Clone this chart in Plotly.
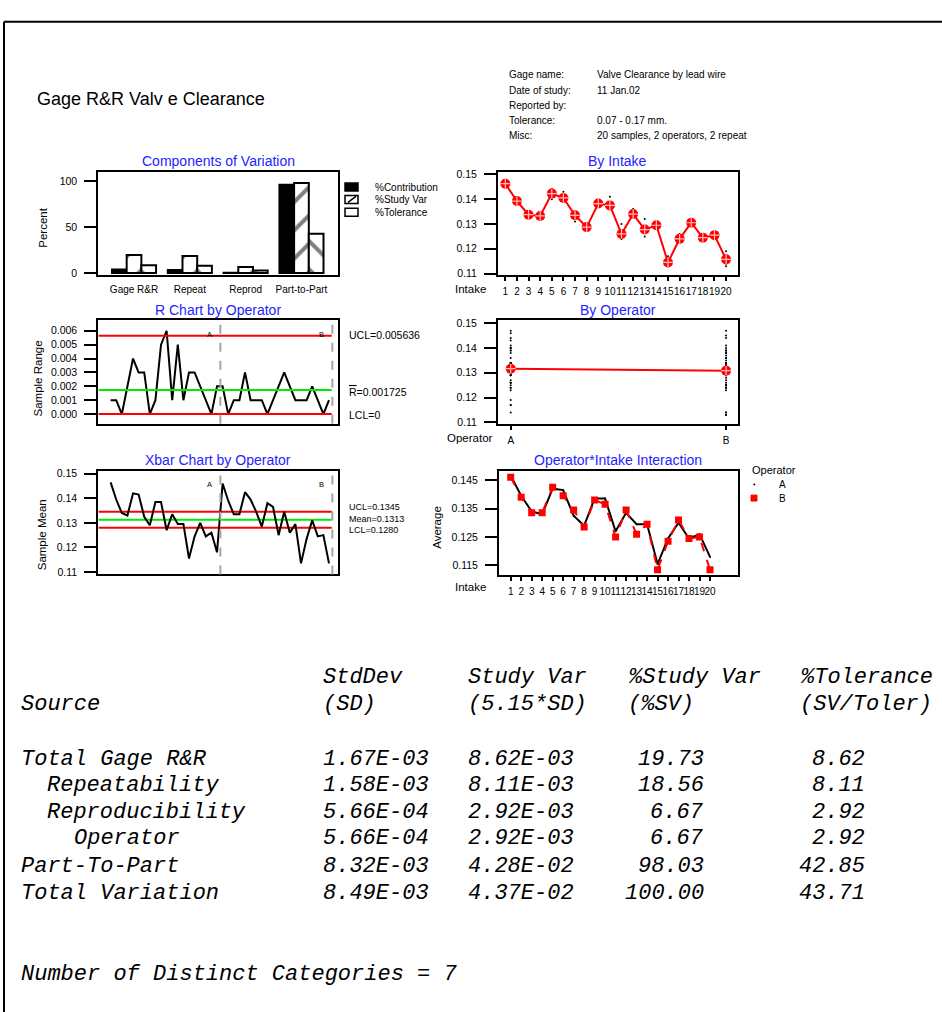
import plotly.graph_objects as go

W, H = 942, 1012


def px(x):
    return x / W


def py(y):
    return 1 - y / H


# ---------------- data ----------------
components = ["Gage R&R", "Repeat", "Reprod", "Part-to-Part"]
pct_contribution = [3.89, 3.44, 0.44, 96.11]
pct_study_var = [19.73, 18.56, 6.67, 98.03]
pct_tolerance = [8.62, 8.11, 2.92, 42.85]

intakes = list(range(1, 21))
operators = ["A", "B"]

# two repeat readings (mm) per intake for each operator
op_a_trial1 = [0.147, 0.140, 0.134, 0.134, 0.144, 0.143, 0.134, 0.129, 0.139, 0.141,
               0.130, 0.134, 0.132, 0.130, 0.117, 0.126, 0.131, 0.125, 0.126, 0.119]
op_a_trial2 = [0.146, 0.139, 0.134, 0.132, 0.140, 0.140, 0.131, 0.129, 0.138, 0.136,
               0.124, 0.133, 0.127, 0.129, 0.114, 0.123, 0.129, 0.124, 0.126, 0.117]
op_b_trial1 = [0.147, 0.139, 0.134, 0.134, 0.144, 0.140, 0.135, 0.129, 0.138, 0.137,
               0.126, 0.136, 0.127, 0.130, 0.114, 0.124, 0.132, 0.125, 0.125, 0.114]
op_b_trial2 = [0.145, 0.139, 0.133, 0.133, 0.141, 0.139, 0.134, 0.128, 0.138, 0.136,
               0.124, 0.133, 0.125, 0.129, 0.113, 0.123, 0.130, 0.124, 0.125, 0.113]

# control limits
r_ucl, r_bar, r_lcl = 0.005636, 0.001725, 0.0
x_ucl, x_mean, x_lcl = 0.1345, 0.1313, 0.1280

# study summary table
table_sources = ["Total Gage R&R", "Repeatability", "Reproducibility", "Operator",
                 "Part-To-Part", "Total Variation"]
table_indent = [0, 2, 2, 4, 0, 0]
table_stddev = ["1.67E-03", "1.58E-03", "5.66E-04", "5.66E-04", "8.32E-03", "8.49E-03"]
table_studyvar = ["8.62E-03", "8.11E-03", "2.92E-03", "2.92E-03", "4.28E-02", "4.37E-02"]
table_pct_sv = ["19.73", "18.56", "6.67", "6.67", "98.03", "100.00"]
table_pct_tol = ["8.62", "8.11", "2.92", "2.92", "42.85", "43.71"]
distinct_categories = 7

info_labels = ["Gage name:", "Date of study:", "Reported by:", "Tolerance:", "Misc:"]
info_values = ["Valve Clearance by lead wire", "11 Jan.02", "",
               "0.07 - 0.17 mm.", "20 samples, 2 operators, 2 repeat"]

# ---------------- derived statistics ----------------
a_means = [(p + q) / 2 for p, q in zip(op_a_trial1, op_a_trial2)]
b_means = [(p + q) / 2 for p, q in zip(op_b_trial1, op_b_trial2)]
a_ranges = [abs(p - q) for p, q in zip(op_a_trial1, op_a_trial2)]
b_ranges = [abs(p - q) for p, q in zip(op_b_trial1, op_b_trial2)]
intake_means = [(a + b) / 2 for a, b in zip(a_means, b_means)]
a_all = op_a_trial1 + op_a_trial2
b_all = op_b_trial1 + op_b_trial2
oper_means = [sum(a_all) / len(a_all), sum(b_all) / len(b_all)]
subgroups = list(range(1, 41))

FONT = "Liberation Sans, Arial, sans-serif"
MONO = "Liberation Mono, Courier New, monospace"
BLUE = "rgb(35,35,255)"
RED = "rgb(255,0,0)"
GREEN = "rgb(0,235,0)"

# plotting boxes in pixels (x0, y0, x1, y1)
boxes = {
    1: (98.3, 169, 338.3, 273.3),   # components
    2: (498, 169, 737.7, 273),      # by intake
    3: (98.3, 319, 338.3, 423),     # R chart
    4: (498, 319, 737.7, 423),      # by operator
    5: (98.3, 471, 338.3, 575),     # Xbar chart
    6: (499, 471, 737.7, 575.7),    # interaction
}

fig = go.Figure()

# ---- Components of Variation ----
fig.add_trace(go.Bar(x=components, y=pct_contribution, name="%Contribution",
                     marker=dict(color="black", line=dict(color="black", width=2)),
                     xaxis="x", yaxis="y", showlegend=False))
fig.add_trace(go.Bar(x=components, y=pct_study_var, name="%Study Var",
                     marker=dict(color="white", line=dict(color="black", width=2),
                                 pattern=dict(shape="/", fgcolor="black", bgcolor="white",
                                              size=20, solidity=0.2)),
                     xaxis="x", yaxis="y", showlegend=False))
fig.add_trace(go.Bar(x=components, y=pct_tolerance, name="%Tolerance",
                     marker=dict(color="white", line=dict(color="black", width=2),
                                 pattern=dict(shape="\\", fgcolor="black", bgcolor="white",
                                              size=20, solidity=0.2)),
                     xaxis="x", yaxis="y", showlegend=False))

# ---- By Intake ----
intake_dots_x = intakes * 4
intake_dots_y = op_a_trial1 + op_a_trial2 + op_b_trial1 + op_b_trial2
fig.add_trace(go.Scatter(x=intake_dots_x, y=intake_dots_y, mode="markers",
                         marker=dict(color="black", size=2), xaxis="x2", yaxis="y2",
                         showlegend=False))
fig.add_trace(go.Scatter(x=intakes, y=intake_means, mode="lines+markers",
                         line=dict(color=RED, width=2),
                         marker=dict(symbol="circle", size=10, color=RED),
                         xaxis="x2", yaxis="y2", showlegend=False))
fig.add_trace(go.Scatter(x=intakes, y=intake_means, mode="markers",
                         marker=dict(symbol="cross-thin", size=7,
                                     line=dict(color="rgb(255,190,190)", width=1.2)),
                         xaxis="x2", yaxis="y2", showlegend=False))

# ---- R chart ----
fig.add_trace(go.Scatter(x=subgroups, y=a_ranges + b_ranges, mode="lines",
                         line=dict(color="black", width=2), xaxis="x3", yaxis="y3",
                         showlegend=False))
for val, col in [(r_ucl, RED), (r_bar, GREEN), (r_lcl, RED)]:
    fig.add_trace(go.Scatter(x=[-1.2, 40.5], y=[val, val], mode="lines",
                             line=dict(color=col, width=2), xaxis="x3", yaxis="y3",
                             showlegend=False))

# ---- By Operator ----
fig.add_trace(go.Scatter(x=[0] * len(a_all) + [1] * len(b_all), y=a_all + b_all,
                         mode="markers", marker=dict(color="black", size=2),
                         xaxis="x4", yaxis="y4", showlegend=False))
fig.add_trace(go.Scatter(x=[0, 1], y=oper_means, mode="lines+markers",
                         line=dict(color=RED, width=2),
                         marker=dict(symbol="circle", size=10, color=RED),
                         xaxis="x4", yaxis="y4", showlegend=False))
fig.add_trace(go.Scatter(x=[0, 1], y=oper_means, mode="markers",
                         marker=dict(symbol="cross-thin", size=7,
                                     line=dict(color="rgb(255,190,190)", width=1.2)),
                         xaxis="x4", yaxis="y4", showlegend=False))

# ---- Xbar chart ----
for val, col in [(x_ucl, RED), (x_mean, GREEN), (x_lcl, RED)]:
    fig.add_trace(go.Scatter(x=[-1.2, 40.5], y=[val, val], mode="lines",
                             line=dict(color=col, width=2), xaxis="x5", yaxis="y5",
                             showlegend=False))
fig.add_trace(go.Scatter(x=subgroups, y=a_means + b_means, mode="lines",
                         line=dict(color="black", width=2), xaxis="x5", yaxis="y5",
                         showlegend=False))

# ---- Operator*Intake interaction ----
fig.add_trace(go.Scatter(x=intakes, y=a_means, mode="lines+markers", name="A",
                         line=dict(color="black", width=2),
                         marker=dict(color="black", size=2),
                         xaxis="x6", yaxis="y6", showlegend=False))
fig.add_trace(go.Scatter(x=intakes, y=b_means, mode="lines+markers", name="B",
                         line=dict(color=RED, width=2, dash="dash"),
                         marker=dict(color=RED, size=7, symbol="square"),
                         xaxis="x6", yaxis="y6", showlegend=False))

# ---------------- axes ----------------
def frame_axis(n, side, **kw):
    x0, y0, x1, y1 = boxes[n]
    base = dict(showline=True, mirror=True, linewidth=2, linecolor="black",
                showgrid=False, zeroline=False, tickcolor="black",
                tickfont=dict(family=FONT, size=10.5, color="black"))
    if side == "x":
        base.update(domain=[px(x0), px(x1)], anchor="y" + ("" if n == 1 else str(n)),
                    tickangle=0)
    else:
        base.update(domain=[py(y1), py(y0)], anchor="x" + ("" if n == 1 else str(n)),
                    ticks="outside", ticklen=12, tickwidth=2, ticklabelstandoff=5)
    base.update(kw)
    return base


small_ticks = dict(family=FONT, size=10, color="black")
intake_range = [0.1095, 0.1511]
layout_axes = {
    "xaxis": frame_axis(1, "x", range=[-0.64, 3.66], ticks="", ticklabelstandoff=4,
                        tickfont=dict(family=FONT, size=10, color="black")),
    "yaxis": frame_axis(1, "y", range=[-2.2, 110.5], tickvals=[0, 50, 100]),
    "xaxis2": frame_axis(2, "x", range=[0.37, 21.0], tickvals=intakes, ticks="outside",
                         ticklen=4, tickwidth=1.5, ticklabelstandoff=2,
                         tickfont=small_ticks),
    "yaxis2": frame_axis(2, "y", range=intake_range,
                         tickvals=[0.11, 0.12, 0.13, 0.14, 0.15], tickformat=".2f"),
    "xaxis3": frame_axis(3, "x", range=[-1.2, 41.66], showticklabels=False, ticks=""),
    "yaxis3": frame_axis(3, "y", range=[-0.00069, 0.00674],
                         tickvals=[0, 0.001, 0.002, 0.003, 0.004, 0.005, 0.006],
                         tickformat=".3f"),
    "xaxis4": frame_axis(4, "x", range=[-0.059, 1.054], tickvals=[0, 1],
                         ticktext=operators, ticks="outside", ticklen=4, tickwidth=1.5,
                         ticklabelstandoff=2, tickfont=small_ticks),
    "yaxis4": frame_axis(4, "y", range=intake_range,
                         tickvals=[0.11, 0.12, 0.13, 0.14, 0.15], tickformat=".2f"),
    "xaxis5": frame_axis(5, "x", range=[-1.2, 41.66], showticklabels=False, ticks=""),
    "yaxis5": frame_axis(5, "y", range=[0.109, 0.151],
                         tickvals=[0.11, 0.12, 0.13, 0.14, 0.15], tickformat=".2f"),
    "xaxis6": frame_axis(6, "x", range=[-0.115, 22.64], tickvals=intakes, ticks="outside",
                         ticklen=4, tickwidth=1.5, ticklabelstandoff=2,
                         tickfont=small_ticks),
    "yaxis6": frame_axis(6, "y", range=[0.1116, 0.1481],
                         tickvals=[0.115, 0.125, 0.135, 0.145], tickformat=".3f"),
}

# ---------------- annotations ----------------
ann = []


def text(x, y, s, size=10.5, color="black", xanchor="left", family=FONT, angle=0,
         style="normal", yanchor="middle", align="left"):
    ann.append(dict(x=px(x), y=py(y), xref="paper", yref="paper", text=s,
                    showarrow=False, xanchor=xanchor, yanchor=yanchor, textangle=angle,
                    align=align,
                    font=dict(family=family, size=size, color=color, style=style)))


text(35, 96, "Gage R&R Valv e Clearance", size=18)
info_rows = [71.5, 86.8, 102, 117.3, 132.5]
for lab, val, yy in zip(info_labels, info_values, info_rows):
    text(507, yy, lab, size=10)
    if val:
        text(595, yy, val, size=10)

# subplot titles
titles = {1: "Components of Variation", 2: "By Intake", 3: "R Chart by Operator",
          4: "By Operator", 5: "Xbar Chart by Operator", 6: "Operator*Intake Interaction"}
title_y = {1: 158, 2: 158, 3: 308, 4: 308, 5: 460, 6: 460}
for n, t in titles.items():
    x0, _, x1, _ = boxes[n]
    text((x0 + x1) / 2, title_y[n], t, size=14, color=BLUE, xanchor="center",
         align="center")

# axis titles
text(43.5, 226, "Percent", size=11.5, xanchor="center", angle=-90)
text(38.5, 378, "Sample Range", size=11.5, xanchor="center", angle=-90)
text(41.5, 535, "Sample Mean", size=11.5, xanchor="center", angle=-90)
text(437, 528, "Average", size=11.5, xanchor="center", angle=-90)
text(453, 287, "Intake", size=11.5)
text(445, 437, "Operator", size=11.5)
text(453, 588, "Intake", size=11.5)

# control limit labels
text(347, 334, "UCL=0.005636", size=10.5)
text(347, 391, "<span style='text-decoration:overline'>R</span>=0.001725", size=10.5)
text(347, 414, "LCL=0", size=10.5)
text(347, 518.5, "UCL=%.4f<br>Mean=%.4f<br>LCL=%.4f" % (x_ucl, x_mean, x_lcl), size=9)

# operator markers on the control charts
for xr, yr in [("x3", "y3"), ("x5", "y5")]:
    for lab, xv in zip(operators, [18.6, 38.6]):
        ann.append(dict(x=xv, y=0.93, xref=xr, yref=yr + " domain", text=lab,
                        showarrow=False, font=dict(family=FONT, size=7.5, color="black")))

# components legend
for lab, yy in zip(["%Contribution", "%Study Var", "%Tolerance"], [184.5, 197, 210]):
    text(373, yy, lab, size=10)

# interaction legend
text(750, 470, "Operator", size=11)
text(777, 484, "A", size=10)
text(777, 498, "B", size=10)

# summary table
hdr1_y, hdr2_y = 678.5, 706.5
col_left = {"sd": 321, "sv": 466, "psv": 626, "ptol": 798}
text(19, hdr2_y, "Source", size=22, family=MONO, style="italic")
for key, h1, h2 in [("sd", "StdDev", "(SD)"), ("sv", "Study Var", "(5.15*SD)"),
                    ("psv", "%Study Var", "(%SV)"), ("ptol", "%Tolerance", "(SV/Toler)")]:
    text(col_left[key], hdr1_y, h1, size=22, family=MONO, style="italic")
    text(col_left[key], hdr2_y, h2, size=22, family=MONO, style="italic")

row_y = [761.5, 788, 815, 841.5, 869, 896.5]
for i, yy in enumerate(row_y):
    text(19 + 13.2 * table_indent[i], yy, table_sources[i], size=22, family=MONO,
         style="italic")
    text(321, yy, table_stddev[i], size=22, family=MONO, style="italic")
    text(466, yy, table_studyvar[i], size=22, family=MONO, style="italic")
    text(706, yy, table_pct_sv[i], size=22, family=MONO, style="italic", xanchor="right")
    text(867, yy, table_pct_tol[i], size=22, family=MONO, style="italic", xanchor="right")

text(19, 978, "Number of Distinct Categories = %d" % distinct_categories, size=22,
     family=MONO, style="italic")

# ---------------- shapes ----------------
shapes = []
# page frame
shapes.append(dict(type="line", xref="paper", yref="paper", x0=px(4), x1=px(4),
                   y0=py(18), y1=py(1020), line=dict(color="black", width=2)))
shapes.append(dict(type="line", xref="paper", yref="paper", x0=px(4), x1=px(950),
                   y0=py(18), y1=py(18), line=dict(color="black", width=2)))
# operator boundaries
for xr, yr in [("x3", "y3"), ("x5", "y5")]:
    for xv in [20.6, 40.6]:
        shapes.append(dict(type="line", xref=xr, yref=yr + " domain", x0=xv, x1=xv,
                           y0=0, y1=1, line=dict(color="rgb(165,165,165)", width=2,
                                                 dash="dash")))
# components legend keys
key_y = [(180.5, 188.5), (193, 201), (206, 214)]
shapes.append(dict(type="rect", xref="paper", yref="paper", x0=px(345), x1=px(358),
                   y0=py(key_y[0][1]), y1=py(key_y[0][0]), fillcolor="black",
                   line=dict(color="black", width=1.5)))
shapes.append(dict(type="rect", xref="paper", yref="paper", x0=px(345), x1=px(358),
                   y0=py(key_y[1][1]), y1=py(key_y[1][0]), fillcolor="white",
                   line=dict(color="black", width=1.5)))
shapes.append(dict(type="line", xref="paper", yref="paper", x0=px(348), x1=px(356),
                   y0=py(200), y1=py(194), line=dict(color="black", width=1.5)))
shapes.append(dict(type="rect", xref="paper", yref="paper", x0=px(345), x1=px(358),
                   y0=py(key_y[2][1]), y1=py(key_y[2][0]), fillcolor="white",
                   line=dict(color="black", width=1.5)))
# interaction legend keys
shapes.append(dict(type="circle", xref="paper", yref="paper", x0=px(753.5), x1=px(755),
                   y0=py(485), y1=py(483.5), fillcolor="black",
                   line=dict(color="black", width=0.5)))
shapes.append(dict(type="rect", xref="paper", yref="paper", x0=px(751), x1=px(757),
                   y0=py(501), y1=py(495), fillcolor=RED, line=dict(color=RED, width=1)))

fig.update_layout(
    width=W, height=H, margin=dict(l=0, r=0, t=0, b=0),
    paper_bgcolor="white", plot_bgcolor="white",
    barmode="group", bargap=0.21, bargroupgap=0,
    showlegend=False, annotations=ann, shapes=shapes,
    font=dict(family=FONT, color="black"),
    **layout_axes,
)

fig.write_html("out.html")
